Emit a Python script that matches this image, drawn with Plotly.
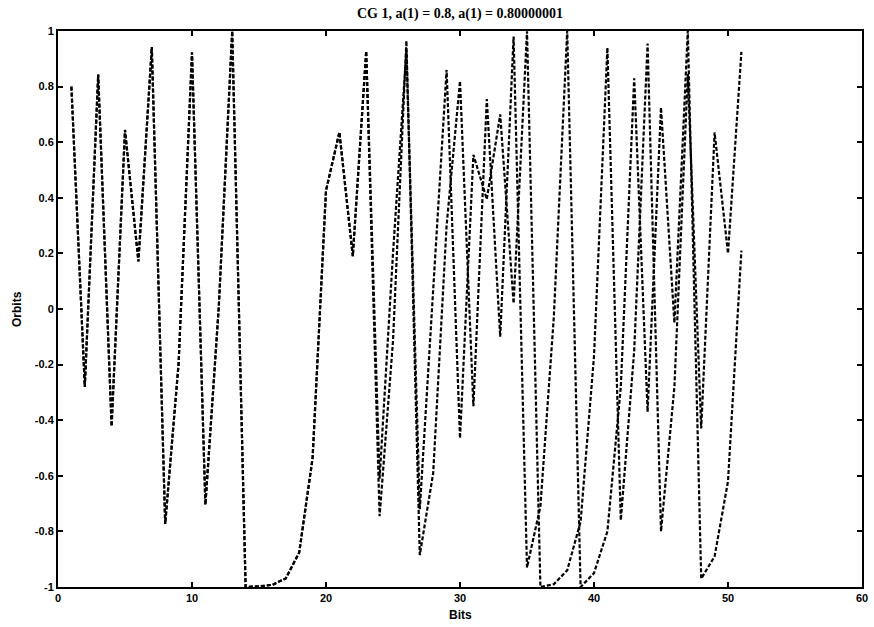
import plotly.graph_objects as go

bits = list(range(1, 52))

orbit_a = [0.8, -0.28, 0.843, -0.422, 0.644, 0.171, 0.942, -0.773, -0.196, 0.923,
           -0.704, 0.008, 0.9999, -0.9995, -0.998, -0.992, -0.969, -0.876, -0.536, 0.426,
           0.636, 0.190, 0.928, -0.745, -0.115, 0.965, -0.885, -0.59, 0.30, 0.82,
           -0.35, 0.755, -0.10, 0.98, -0.93, -0.71, -0.03, 1.0, -1.0, -0.95,
           -0.80, -0.28, 0.83, -0.37, 0.725, -0.05, 1.0, -0.97, -0.89, -0.62,
           0.21]

orbit_b = [0.8, -0.28, 0.843, -0.422, 0.644, 0.171, 0.942, -0.773, -0.196, 0.923,
           -0.704, 0.008, 0.9999, -0.9995, -0.998, -0.992, -0.969, -0.876, -0.536, 0.426,
           0.636, 0.190, 0.928, -0.61, 0.20, 0.93, -0.72, 0.08, 0.86, -0.465,
           0.555, 0.395, 0.70, 0.02, 0.999, -1.0, -0.99, -0.94, -0.765, -0.17,
           0.94, -0.76, -0.15, 0.955, -0.80, -0.28, 0.845, -0.43, 0.635, 0.20,
           0.925]

x_ticks = [0, 10, 20, 30, 40, 50, 60]
y_ticks = [-1, -0.8, -0.6, -0.4, -0.2, 0, 0.2, 0.4, 0.6, 0.8, 1]
y_tick_labels = ["-1", "-0.8", "-0.6", "-0.4", "-0.2", "0", "0.2", "0.4", "0.6", "0.8", "1"]

fig = go.Figure()
for ys in (orbit_a, orbit_b):
    fig.add_trace(go.Scatter(
        x=bits, y=ys, mode="lines",
        line=dict(color="black", width=2.2, dash="4px,2px"),
        showlegend=False, hoverinfo="skip",
    ))

tick_font = dict(family="Liberation Sans", size=11, color="black", weight="bold")
label_font = dict(family="Liberation Sans", size=12, color="black", weight="bold")
axis_common = dict(
    showgrid=False, zeroline=False, showline=True, linecolor="black", linewidth=2,
    mirror="ticks", ticks="inside", ticklen=5, tickwidth=1.5, tickcolor="black",
    tickfont=tick_font, automargin=False,
)

fig.update_layout(
    width=874, height=627,
    paper_bgcolor="white", plot_bgcolor="white",
    margin=dict(l=58, r=12, t=31, b=40, autoexpand=False),
    title=dict(text="CG 1, a(1) = 0.8, a(1) = 0.80000001",
               font=dict(family="Liberation Serif", size=14, color="black", weight="bold"),
               x=0.5, xref="paper", xanchor="center",
               y=1 - 13 / 627, yref="container", yanchor="middle"),
    xaxis=dict(range=[0, 60], tickvals=x_ticks, ticktext=[str(v) for v in x_ticks],
               **axis_common),
    yaxis=dict(range=[-1, 1], tickvals=y_ticks, ticktext=y_tick_labels,
               **axis_common),
    annotations=[
        dict(text="Bits", xref="paper", yref="paper", x=0.5, y=-28 / 556,
             xanchor="center", yanchor="middle", showarrow=False, font=label_font),
        dict(text="Orbits", xref="paper", yref="paper", x=-41 / 804, y=0.5,
             xanchor="center", yanchor="middle", showarrow=False, textangle=-90,
             font=label_font),
    ],
)

fig.write_html("out.html")
